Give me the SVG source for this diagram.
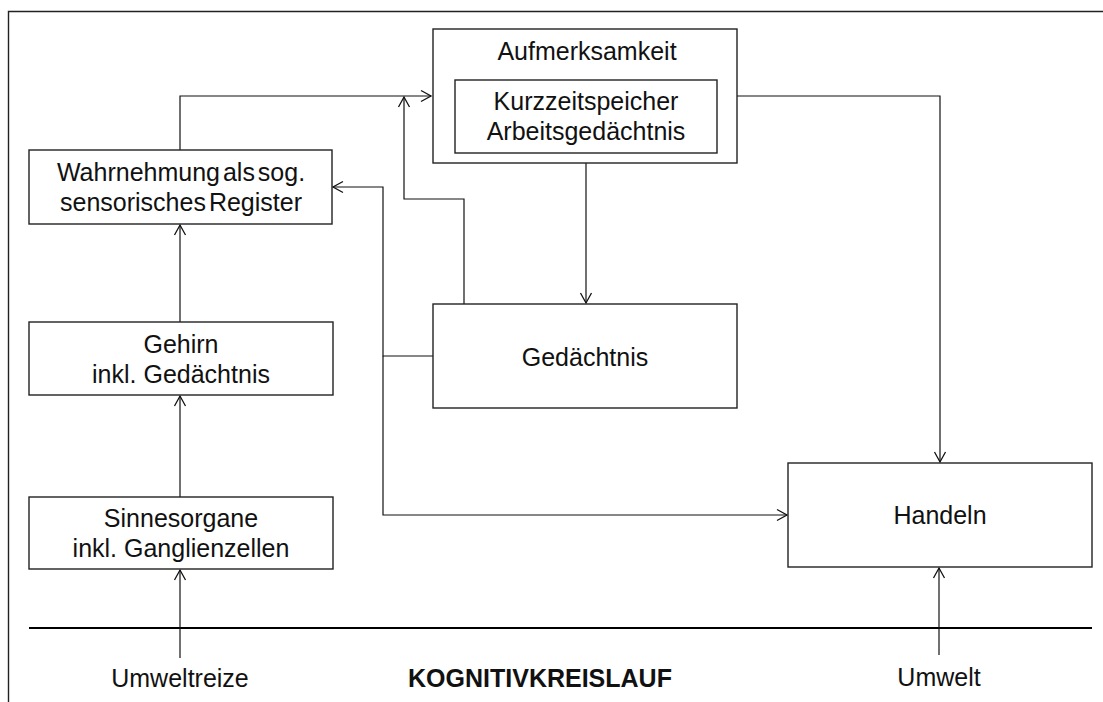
<svg xmlns="http://www.w3.org/2000/svg" width="1103" height="702" viewBox="0 0 1103 702">
<style>
.box{fill:#fff;stroke:#222;stroke-width:1.4}
.con{fill:none;stroke:#111;stroke-width:1.2}
text{font-family:"Liberation Sans",Arial,sans-serif;font-size:25px;fill:#111;text-anchor:middle}
.b{font-weight:bold}
</style>
<defs>
<marker id="ah" markerUnits="userSpaceOnUse" markerWidth="14" markerHeight="14" viewBox="0 0 14 14" refX="12" refY="7" orient="auto">
<path d="M2,1.5 L12,7 L2,12.5" fill="none" stroke="#111" stroke-width="1.3"/>
</marker>
</defs>
<rect width="1103" height="702" fill="#fff"/>
<g id="frame">
<path d="M8.5,702 V11.5 H1103" fill="none" stroke="#222" stroke-width="1.4"/>
<line x1="29" y1="628" x2="1092" y2="628" stroke="#000" stroke-width="2.2"/>
</g>
<g id="connectors">
<path class="con" d="M180,150 V96 H431" marker-end="url(#ah)"/>
<path class="con" d="M464,304 V199 H404 V97" marker-end="url(#ah)"/>
<path class="con" d="M586,163 V303" marker-end="url(#ah)"/>
<path class="con" d="M737,96 H940 V462" marker-end="url(#ah)"/>
<path class="con" d="M433,356 H383 V187 H333" marker-end="url(#ah)"/>
<path class="con" d="M383,356 V515 H787" marker-end="url(#ah)"/>
<path class="con" d="M180,322 V225" marker-end="url(#ah)"/>
<path class="con" d="M180,497 V396" marker-end="url(#ah)"/>
<path class="con" d="M180,658 V570" marker-end="url(#ah)"/>
<path class="con" d="M939,655 V568" marker-end="url(#ah)"/>
</g>
<g id="aufmerksamkeit">
<rect class="box" x="433" y="29" width="304" height="134"/>
<text x="587" y="60">Aufmerksamkeit</text>
</g>
<g id="kurzzeitspeicher">
<rect class="box" x="455" y="80" width="262" height="73"/>
<text x="586" y="110">Kurzzeitspeicher</text>
<text x="586" y="140">Arbeitsgedächtnis</text>
</g>
<g id="wahrnehmung">
<rect class="box" x="29" y="150" width="303" height="74"/>
<text x="181" y="181" word-spacing="-4">Wahrnehmung als sog.</text>
<text x="181" y="211" word-spacing="-4">sensorisches Register</text>
</g>
<g id="gehirn">
<rect class="box" x="29" y="322" width="304" height="73"/>
<text x="181" y="353">Gehirn</text>
<text x="181" y="383">inkl. Gedächtnis</text>
</g>
<g id="sinnesorgane">
<rect class="box" x="29" y="497" width="304" height="72"/>
<text x="181" y="527">Sinnesorgane</text>
<text x="181" y="557">inkl. Ganglienzellen</text>
</g>
<g id="gedaechtnis">
<rect class="box" x="433" y="304" width="304" height="104"/>
<text x="585" y="366">Gedächtnis</text>
</g>
<g id="handeln">
<rect class="box" x="788" y="463" width="304" height="104"/>
<text x="940" y="524">Handeln</text>
</g>
<g id="labels">
<text x="180" y="687">Umweltreize</text>
<text x="540" y="687" class="b">KOGNITIVKREISLAUF</text>
<text x="939" y="686">Umwelt</text>
</g>
</svg>
